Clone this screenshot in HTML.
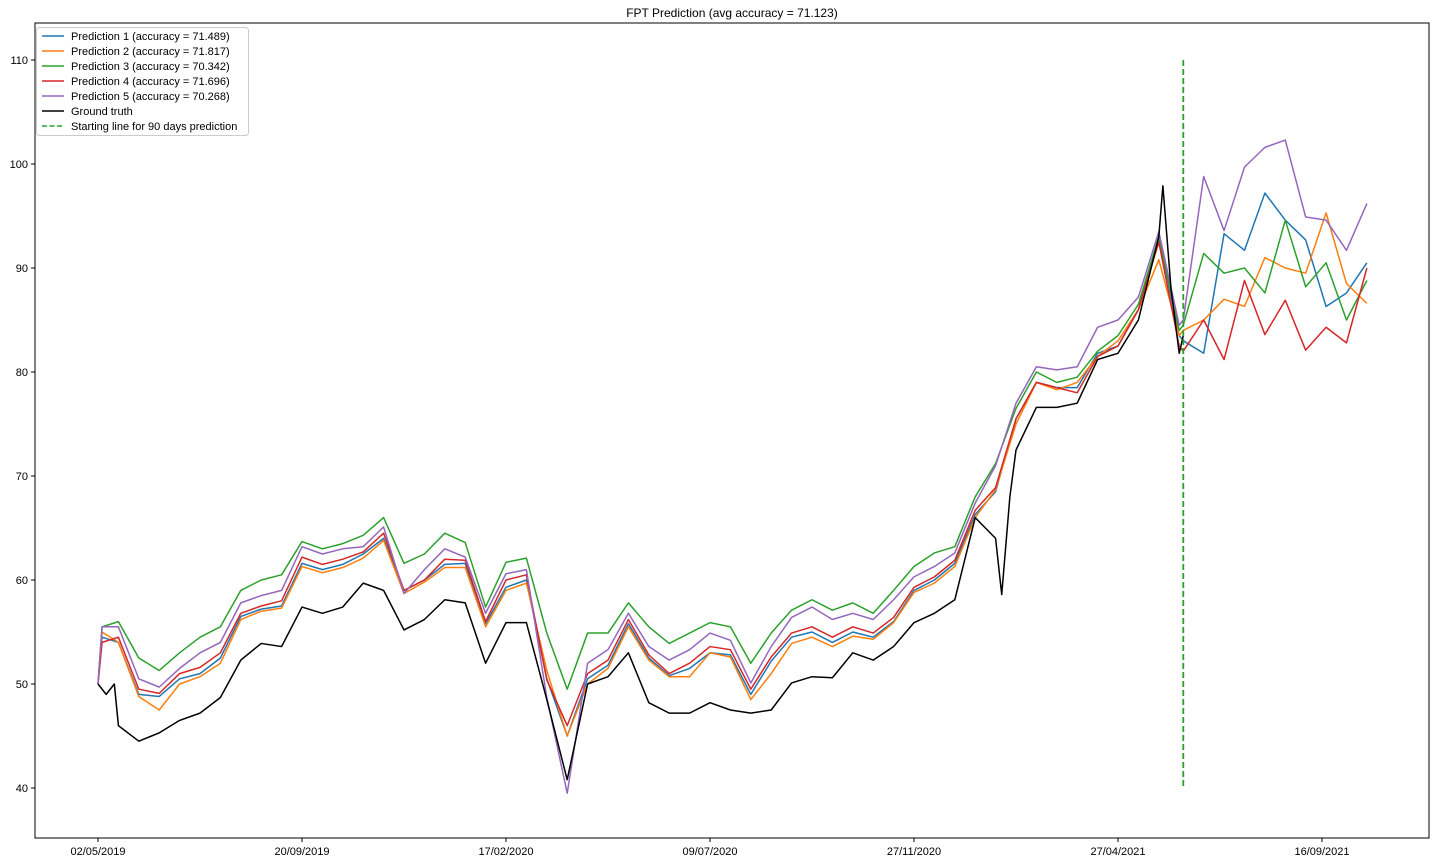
<!DOCTYPE html>
<html><head><meta charset="utf-8"><style>
body{margin:0;background:#fff;font-family:"Liberation Sans",sans-serif}
svg text{font-family:"Liberation Sans",sans-serif;font-size:11px;fill:#000}
</style></head><body>
<svg id="chart" width="1436" height="863">
<rect x="0" y="0" width="1436" height="863" fill="#fff"/>
<text x="732" y="17" text-anchor="middle" style="font-size:12px">FPT Prediction (avg accuracy = 71.123)</text>
<g id="axes"></g>
<g id="series"></g>
<rect x="35" y="23" width="1394" height="815" fill="none" stroke="#000" stroke-width="1"/>
<g id="legend"></g>
</svg>
<script>
const xTickIdx=[0,100,200,300,400,500,600];
const xTickLabels=["02/05/2019","20/09/2019","17/02/2020","09/07/2020","27/11/2020","27/04/2021","16/09/2021"];
const yTicks=[40,50,60,70,80,90,100,110];
const gtIdx=[0,4,8,10,20,30,40,50,60,70,80,90,100,110,120,130,140,150,160,170,180,190,200,210,220,230,240,250,260,270,280,290,300,310,320,330,340,350,360,370,380,390,400,410,420,430,440,443,447,450,460,470,480,490,500,510,520,522,526,530,532];
const predIdx=[0,2,10,20,30,40,50,60,70,80,90,100,110,120,130,140,150,160,170,180,190,200,210,220,230,240,250,260,270,280,290,300,310,320,330,340,350,360,370,380,390,400,410,420,430,440,450,460,470,480,490,500,510,520,530,532,542,552,562,572,582,592,602,612,622];
const groundTruth=[50,49,50,46,44.5,45.3,46.5,47.2,48.7,52.3,53.9,53.6,57.4,56.8,57.4,59.7,59,55.2,56.2,58.1,57.8,52,55.9,55.9,48.5,40.8,50,50.7,53,48.2,47.2,47.2,48.2,47.5,47.2,47.5,50.1,50.7,50.6,53,52.3,53.6,55.9,56.8,58.1,66,64,58.6,68,72.5,76.6,76.6,77,81.2,81.8,85,93,97.9,88,81.8,83.5];
const pred1=[50,54.5,54,49,48.8,50.5,51,52.5,56.5,57.2,57.5,61.6,61,61.5,62.5,64,59,60,61.5,61.6,55.8,59.3,60,50.5,45,50.5,51.8,55.8,52.5,50.8,51.5,53,52.8,49,52.2,54.5,55,54,55,54.5,56,59,60,61.6,66.3,68.5,75.5,79,78.5,78.5,81.8,82.5,86,93,83.5,83,81.8,93.3,91.7,97.2,94.6,92.7,86.3,87.6,90.5];
const pred2=[50,55,54,48.8,47.5,50,50.7,52,56.2,57,57.3,61.3,60.7,61.2,62.1,63.8,58.7,59.8,61.2,61.2,55.5,59,59.7,51.3,45,50,51.5,55.5,52.3,50.7,50.7,53,52.6,48.5,51,53.9,54.5,53.6,54.6,54.3,55.9,58.8,59.7,61.3,66,68.7,75,79,78.3,79,81.5,83,86,90.8,83.5,84,85,87,86.3,91,90,89.5,95.3,88.5,86.6];
const pred3=[50,55.5,56,52.5,51.3,53,54.5,55.5,59,60,60.5,63.7,63,63.5,64.3,66,61.6,62.5,64.5,63.6,57.4,61.7,62.1,54.9,49.5,54.9,54.9,57.8,55.5,53.9,54.9,55.9,55.5,52,54.9,57.1,58.1,57.1,57.8,56.8,59,61.3,62.6,63.2,68,71.2,76.5,80,79,79.5,82,83.5,86.5,93,84,84.5,91.4,89.5,90,87.6,94.6,88.2,90.5,85,88.8];
const pred4=[50,54,54.5,49.5,49.1,51,51.6,53,56.8,57.5,58,62.2,61.5,62,62.7,64.5,59,60,62,61.9,56,60,60.5,50.4,46,51,52.3,56.2,52.8,51,52,53.6,53.3,49.5,52.6,54.9,55.5,54.5,55.5,54.9,56.4,59.3,60.3,61.9,66.7,68.9,75.5,79,78.5,78,81.5,82.5,86,92.5,82.5,82,85,81.2,88.8,83.6,86.9,82.1,84.3,82.8,90];
const pred5=[50,55.5,55.5,50.5,49.7,51.5,53,54,57.8,58.5,59,63.2,62.5,63,63.2,65.1,58.7,61,63,62.2,56.8,60.6,61,48.7,39.5,52,53.3,56.8,53.6,52.3,53.3,54.9,54.2,50.1,53.6,56.4,57.4,56.2,56.8,56.2,58.1,60.3,61.3,62.6,67.4,71,77,80.5,80.2,80.5,84.3,85,87.2,93.5,84.5,85,98.8,93.6,99.7,101.6,102.3,94.9,94.6,91.7,96.2];
const seriesNames=["Prediction 1 (accuracy = 71.489)","Prediction 2 (accuracy = 71.817)","Prediction 3 (accuracy = 70.342)","Prediction 4 (accuracy = 71.696)","Prediction 5 (accuracy = 70.268)","Ground truth","Starting line for 90 days prediction"];
const startIdx=[532];
const startRange=[40,110];

const NS="http://www.w3.org/2000/svg";
const xs=i=>98+i*2.04;
const ys=v=>60+(110-v)*10.4;
function mk(t,a,p){const e=document.createElementNS(NS,t);for(const k in a)e.setAttribute(k,a[k]);p.appendChild(e);return e;}
const axes=document.getElementById('axes');
xTickIdx.forEach((t,i)=>{
  const x=xs(t);
  const l=mk('line',{x1:x,x2:x,y1:838,y2:842,stroke:'#000'},axes);
  
  
  const tx=mk('text',{x:x,y:855,'text-anchor':'middle'},axes);tx.textContent=xTickLabels[i];
  
  
});
yTicks.forEach(v=>{
  const y=ys(v);
  const l=mk('line',{x1:31,x2:35,y1:y,y2:y,stroke:'#000'},axes);
  
  
  const tx=mk('text',{x:28,y:y+4,'text-anchor':'end'},axes);tx.textContent=v;
  
  
});
const sg=document.getElementById('series');
const colors=["#1f77b4","#ff7f0e","#2ca02c","#d62728","#9467bd","#000000","#2ca02c"];
const preds=[pred1,pred2,pred3,pred4,pred5];
function poly(idx,vals,c,name){
  const p=mk('polyline',{points:idx.map((t,i)=>xs(t)+','+ys(vals[i])).join(' '),fill:'none',stroke:c,'stroke-width':1.5,'stroke-linejoin':'round'},sg);
  
  
}
preds.forEach((s,k)=>poly(predIdx,s,colors[k],'prediction-'+(k+1)+'-line'));
poly(gtIdx,groundTruth,'#000','ground-truth-line');
const vl=mk('line',{x1:xs(startIdx[0]),x2:xs(startIdx[0]),y1:ys(startRange[1]),y2:ys(startRange[0]),stroke:'#2ca02c','stroke-width':1.8,'stroke-dasharray':'6,3'},sg);


const lg=document.getElementById('legend');
const box=mk('rect',{x:36.5,y:27.5,width:212,height:108,rx:3,fill:'#fff','fill-opacity':0.8,stroke:'#ccc'},lg);


seriesNames.forEach((n,i)=>{
  const y=36+i*15;
  const l=mk('line',{x1:42,x2:64,y1:y,y2:y,stroke:colors[i],'stroke-width':1.5},lg);
  if(i===6)l.setAttribute('stroke-dasharray','5,2.5');
  
  
  const t=mk('text',{x:71,y:y+4},lg);t.textContent=n;
  
  
});
</script>
</body></html>
